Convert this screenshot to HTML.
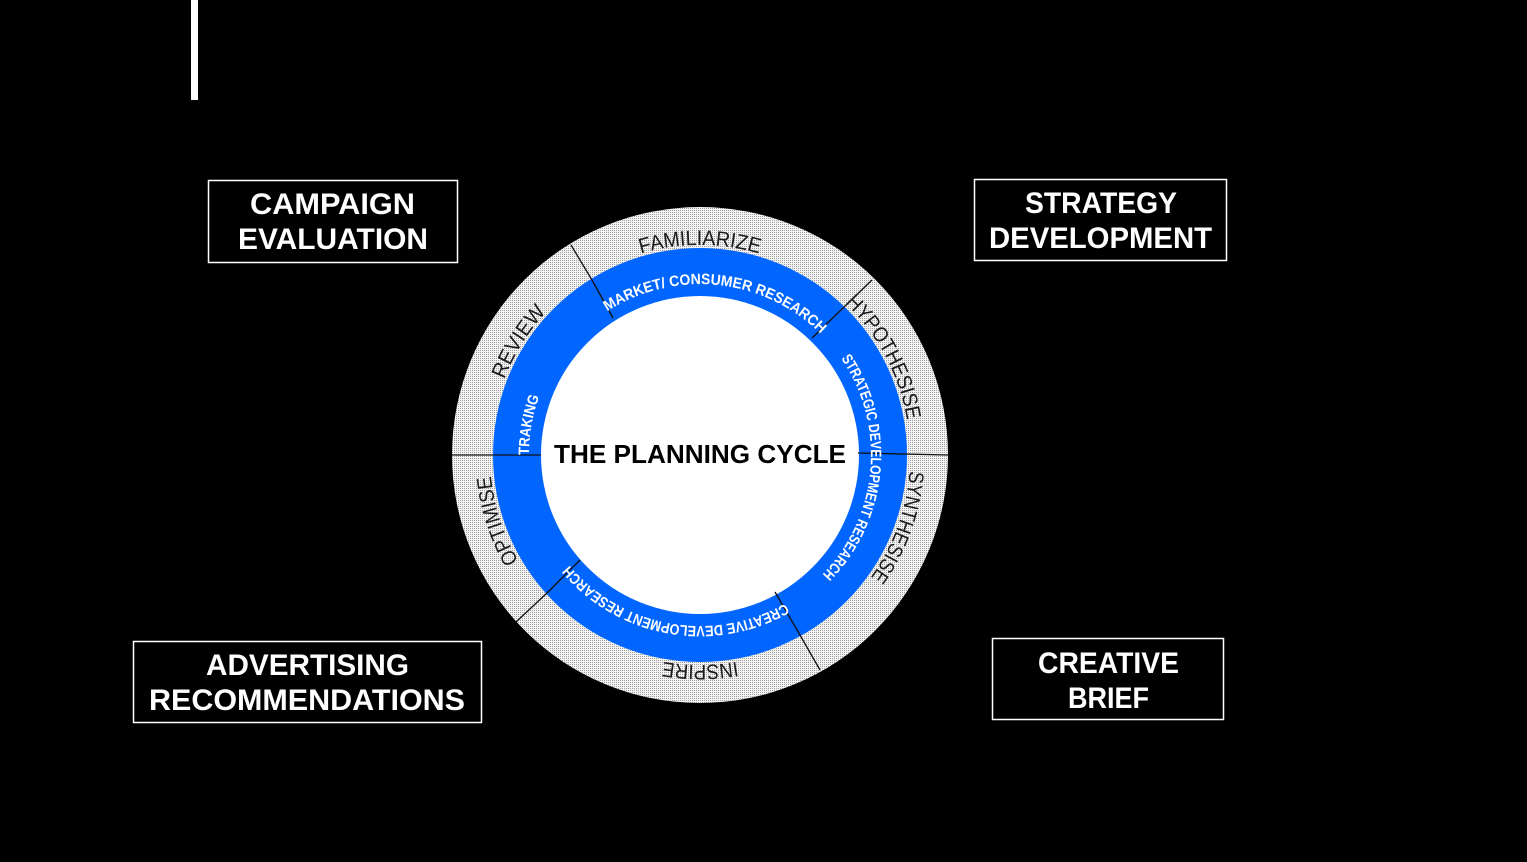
<!DOCTYPE html>
<html><head><meta charset="utf-8"><style>
html,body{margin:0;padding:0;background:#000;}
svg{display:block;}
.box{font-family:"Liberation Sans",sans-serif;font-weight:bold;font-size:30px;fill:#fff;}
.out{font-family:"Liberation Sans",sans-serif;font-size:21px;fill:#1a1a1a;}
.in{font-family:"Liberation Sans",sans-serif;font-weight:bold;font-size:15px;fill:#fff;}
</style></head><body>
<svg width="1527" height="862" viewBox="0 0 1527 862" xmlns="http://www.w3.org/2000/svg">
<defs>
<pattern id="dots" width="2" height="2" patternUnits="userSpaceOnUse">
<rect width="2" height="2" fill="#f4f4f4"/><rect width="1" height="1" fill="#a0a0a0"/>
</pattern>
<path id="p1" d="M493.2,418.5 A210,210 0 0 1 906.8,418.5"/>
<path id="p2" d="M559.5,611 A210,210 0 0 1 778.7,260.3"/>
<path id="p3" d="M635.1,255.3 A210,210 0 0 1 829.3,620.5"/>
<path id="p4" d="M805,273.1 A210,210 0 0 1 663.5,661.8"/>
<path id="p5" d="M906.8,491.5 A210,210 0 0 1 493.2,491.5"/>
<path id="p6" d="M729.2,663 A210,210 0 0 1 601.4,269.6"/>
<path id="q1" d="M535.7,407.8 A171,171 0 0 1 870.6,443.1"/>
<path id="q2" d="M744.3,289.8 A171,171 0 0 1 714.9,625.3"/>
<path id="q3" d="M860.7,513.5 A171,171 0 0 1 529,455"/>
<path id="q4" d="M641.5,615.7 A171,171 0 0 1 700,284"/>
</defs>
<rect x="191" y="0" width="7" height="100" fill="#fff"/>

<circle cx="700" cy="455" r="248" fill="url(#dots)"/>
<circle cx="700" cy="455" r="207" fill="#0066ff"/>
<circle cx="700" cy="455" r="159" fill="#fff"/>
<g stroke="#111" stroke-width="1.3" fill="none">
<line x1="571" y1="245" x2="592" y2="280"/><line x1="592" y1="280" x2="613" y2="318"/>
<line x1="872" y1="280" x2="843" y2="308"/><line x1="843" y1="308" x2="812" y2="338"/>
<line x1="858" y1="453" x2="948" y2="455"/>
<line x1="452" y1="455" x2="541" y2="455"/>
<line x1="820" y1="670" x2="800" y2="635"/><line x1="800" y1="635" x2="775" y2="592"/>
<line x1="516" y1="622" x2="547" y2="593"/><line x1="547" y1="593" x2="580" y2="560"/>
</g>

<text class="out"><textPath href="#p1" startOffset="50%" text-anchor="middle" textLength="120" lengthAdjust="spacingAndGlyphs">FAMILIARIZE</textPath></text>
<text class="out"><textPath href="#p2" startOffset="50%" text-anchor="middle" textLength="80" lengthAdjust="spacingAndGlyphs">REVIEW</textPath></text>
<text class="out"><textPath href="#p3" startOffset="50%" text-anchor="middle" textLength="135" lengthAdjust="spacingAndGlyphs">HYPOTHESISE</textPath></text>
<text class="out"><textPath href="#p4" startOffset="50%" text-anchor="middle" textLength="115" lengthAdjust="spacingAndGlyphs">SYNTHESISE</textPath></text>
<text class="out"><textPath href="#p5" startOffset="50%" text-anchor="middle" textLength="74" lengthAdjust="spacingAndGlyphs">INSPIRE</textPath></text>
<text class="out"><textPath href="#p6" startOffset="50%" text-anchor="middle" textLength="90" lengthAdjust="spacingAndGlyphs">OPTIMISE</textPath></text>

<text class="in"><textPath href="#q1" startOffset="50%" text-anchor="middle" textLength="232" lengthAdjust="spacingAndGlyphs">MARKET/ CONSUMER RESEARCH</textPath></text>
<text class="in"><textPath href="#q2" startOffset="50%" text-anchor="middle" textLength="235" lengthAdjust="spacingAndGlyphs">STRATEGIC DEVELOPMENT RESEARCH</textPath></text>
<text class="in"><textPath href="#q3" startOffset="50%" text-anchor="middle" textLength="238" lengthAdjust="spacingAndGlyphs">CREATIVE DEVELOPMENT RESEARCH</textPath></text>
<text class="in"><textPath href="#q4" startOffset="50%" text-anchor="middle" textLength="60" lengthAdjust="spacingAndGlyphs">TRAKING</textPath></text>

<text x="700" y="463" text-anchor="middle" font-family="Liberation Sans, sans-serif" font-weight="bold" font-size="26" fill="#000" textLength="292" lengthAdjust="spacingAndGlyphs">THE PLANNING CYCLE</text>

<g fill="none" stroke="#fff" stroke-width="1.5">
<rect x="208.5" y="180.5" width="249" height="82"/>
<rect x="974.5" y="179.5" width="252" height="81"/>
<rect x="133.5" y="641.5" width="348" height="81"/>
<rect x="992.5" y="638.5" width="231" height="81"/>
</g>
<text class="box" x="332.5" y="214" text-anchor="middle" textLength="165" lengthAdjust="spacingAndGlyphs">CAMPAIGN</text>
<text class="box" x="333" y="249" text-anchor="middle" textLength="190" lengthAdjust="spacingAndGlyphs">EVALUATION</text>
<text class="box" x="1101" y="213" text-anchor="middle" textLength="152" lengthAdjust="spacingAndGlyphs">STRATEGY</text>
<text class="box" x="1100.5" y="248" text-anchor="middle" textLength="223" lengthAdjust="spacingAndGlyphs">DEVELOPMENT</text>
<text class="box" x="307.5" y="675" text-anchor="middle" textLength="203" lengthAdjust="spacingAndGlyphs">ADVERTISING</text>
<text class="box" x="307" y="710" text-anchor="middle" textLength="316" lengthAdjust="spacingAndGlyphs">RECOMMENDATIONS</text>
<text class="box" x="1108.5" y="673" text-anchor="middle" textLength="141" lengthAdjust="spacingAndGlyphs">CREATIVE</text>
<text class="box" x="1108.5" y="708" text-anchor="middle" textLength="81" lengthAdjust="spacingAndGlyphs">BRIEF</text>
</svg>
</body></html>
